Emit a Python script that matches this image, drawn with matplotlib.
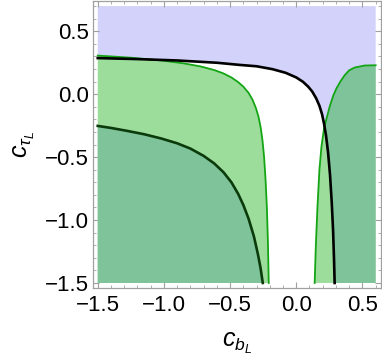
import matplotlib
matplotlib.use("Agg")
import matplotlib.pyplot as plt
from matplotlib.patches import Polygon

plt.rcParams['font.family'] = ['Liberation Sans', 'DejaVu Sans']
plt.rcParams['mathtext.fontset'] = 'custom'
plt.rcParams['mathtext.it'] = 'Liberation Sans:italic'
plt.rcParams['mathtext.rm'] = 'Liberation Sans'

# plot window of the region plot
X_MIN, X_MAX = -1.5, 0.6
Y_MIN, Y_MAX = -1.5, 0.7

# black boundary of the blue region
black_x = [-1.5, -1.2, -0.9, -0.6, -0.43, -0.3, -0.18, -0.08, 0.0, 0.05, 0.09, 0.12,
           0.15, 0.175, 0.195, 0.21, 0.225, 0.24, 0.255, 0.268, 0.278, 0.285, 0.29]
black_y = [0.287, 0.279, 0.268, 0.25, 0.233, 0.222, 0.199, 0.17, 0.133, 0.099, 0.06, 0.022,
           -0.032, -0.092, -0.16, -0.235, -0.33, -0.46, -0.64, -0.86, -1.08, -1.3, -1.5]

# dark green boundary, lower-left region
dark_x = [-1.5, -1.4, -1.28, -1.15, -1.02, -0.9, -0.8, -0.7, -0.62, -0.55, -0.49,
          -0.44, -0.40, -0.36, -0.32, -0.29, -0.27, -0.253]
dark_y = [-0.252, -0.268, -0.291, -0.318, -0.352, -0.39, -0.432, -0.49, -0.55, -0.62, -0.70,
          -0.79, -0.88, -0.99, -1.13, -1.27, -1.38, -1.5]

# green boundary, left branch
gl_x = [-1.5, -1.25, -1.02, -0.85, -0.72, -0.62, -0.55, -0.49, -0.44, -0.40, -0.36,
        -0.33, -0.305, -0.285, -0.268, -0.255, -0.243, -0.232, -0.222, -0.214, -0.208]
gl_y = [0.307, 0.29, 0.268, 0.245, 0.22, 0.192, 0.165, 0.133, 0.097, 0.06, 0.01,
        -0.045, -0.11, -0.18, -0.27, -0.37, -0.5, -0.68, -0.9, -1.18, -1.5]

# green boundary, right branch
gr_x = [0.6, 0.517, 0.442, 0.40, 0.366, 0.333, 0.303, 0.28, 0.252, 0.232, 0.21, 0.19,
        0.175, 0.16, 0.148, 0.139]
gr_y = [0.23, 0.228, 0.212, 0.19, 0.151, 0.10, 0.045, -0.01, -0.1, -0.18, -0.27, -0.42,
        -0.6, -0.9, -1.2, -1.5]

BLUE = '#D2D2FB'
LIGHT_GREEN = '#9DDD9C'
DARK_GREEN = '#7EC39A'
GREEN_LINE = '#14A514'
DARK_LINE = '#0B3B0B'
FRAME = '#A0A0A0'

fig = plt.figure(figsize=(3.82, 3.58), dpi=100)
ax = fig.add_axes([0.2427, 0.1955, 0.7539, 0.8015])

# blue region: above / right of the black curve
blue_pts = list(zip(black_x, black_y)) + [(X_MAX, Y_MIN), (X_MAX, Y_MAX), (X_MIN, Y_MAX)]
blue = Polygon(blue_pts, closed=True, facecolor=BLUE, edgecolor='none', zorder=1)
ax.add_patch(blue)

# light green regions
left_pts = list(zip(gl_x, gl_y)) + [(X_MIN, Y_MIN)]
ax.add_patch(Polygon(left_pts, closed=True, facecolor=LIGHT_GREEN, edgecolor='none', zorder=2))
right_pts = list(zip(gr_x, gr_y)) + [(X_MAX, Y_MIN)]
ax.add_patch(Polygon(right_pts, closed=True, facecolor=LIGHT_GREEN, edgecolor='none', zorder=2))

# overlap on the right: green region inside blue region
overlap = Polygon(right_pts, closed=True, facecolor=DARK_GREEN, edgecolor='none', zorder=3)
ax.add_patch(overlap)
clip = Polygon(blue_pts, closed=True, facecolor='none', edgecolor='none', transform=ax.transData)
overlap.set_clip_path(clip)

# dark region lower left
dark_pts = list(zip(dark_x, dark_y)) + [(X_MIN, Y_MIN)]
ax.add_patch(Polygon(dark_pts, closed=True, facecolor=DARK_GREEN, edgecolor='none', zorder=3))

# boundaries
ax.plot(gl_x, gl_y, color=GREEN_LINE, lw=1.3, zorder=4, solid_joinstyle='round')
ax.plot(gr_x, gr_y, color=GREEN_LINE, lw=1.3, zorder=4, solid_joinstyle='round')
ax.plot(dark_x, dark_y, color=DARK_LINE, lw=1.9, zorder=5, solid_joinstyle='round')
ax.plot(black_x, black_y, color='black', lw=1.9, zorder=5, solid_joinstyle='round')

pad_x = 0.038
pad_y = 0.04
ax.set_xlim(X_MIN - pad_x, X_MAX + pad_x)
ax.set_ylim(Y_MIN - pad_y, Y_MAX + pad_y)

ax.set_xticks([-1.5, -1.0, -0.5, 0.0, 0.5])
ax.set_yticks([-1.5, -1.0, -0.5, 0.0, 0.5])
ax.set_xticklabels(['\u22121.5', '\u22121.0', '\u22120.5', '0.0', '0.5'])
ax.set_yticklabels(['\u22121.5', '\u22121.0', '\u22120.5', '0.0', '0.5'])
ax.set_xticks([v / 10 for v in range(-15, 7)], minor=True)
ax.set_yticks([v / 10 for v in range(-15, 8)], minor=True)

ax.tick_params(which='both', direction='in', top=True, right=True, color=FRAME)
ax.tick_params(which='major', length=4.5, width=0.8, labelsize=16, pad=5)
ax.tick_params(which='minor', length=2.5, width=0.6)
ax.tick_params(axis='y', which='major', pad=2.5)
for s in ax.spines.values():
    s.set_color(FRAME)
    s.set_linewidth(0.9)

ax.set_xlabel(r'$c_{b_L}$', fontsize=18, labelpad=11)
ax.set_ylabel(r'$c_{\tau_L}$', fontsize=18, labelpad=6)

fig.savefig('out.png', dpi=100)
